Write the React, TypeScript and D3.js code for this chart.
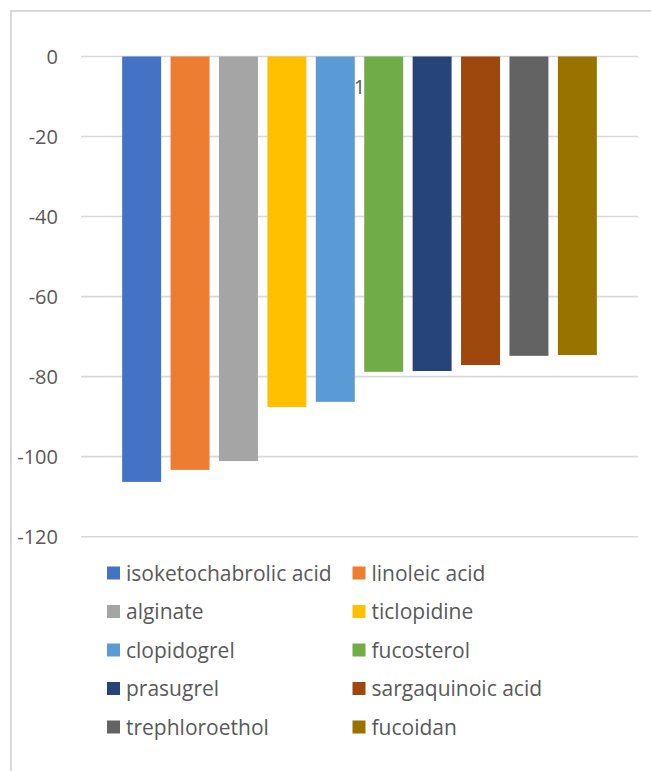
import React, { useEffect } from 'react';
import * as d3 from 'd3';

// single category "1", ten series
const compounds = [
  'isoketochabrolic acid',
  'linoleic acid',
  'alginate',
  'ticlopidine',
  'clopidogrel',
  'fucosterol',
  'prasugrel',
  'sargaquinoic acid',
  'trephloroethol',
  'fucoidan'
];

const scores = [-106.3, -103.3, -101.1, -87.6, -86.3, -78.8, -78.6, -77.1, -74.8, -74.6];

const palette = [
  '#4472C4', '#ED7D31', '#A5A5A5', '#FFC000', '#5B9BD5',
  '#70AD47', '#264478', '#9E480E', '#636363', '#997300'
];

const yTicks = [0, -20, -40, -60, -80, -100, -120];
const categoryLabel = '1';

const W = 651;
const H = 771;
const FONT = '"Open Sans", Lato, sans-serif';
const TEXT = '#595959';
const GRID = '#D9D9D9';

const App: React.FC = () => {
  useEffect(() => {
    document.body.style.margin = '0';
  }, []);

  const y = d3.scaleLinear().domain([-120, 0]).range([536.7, 56.5]);

  const x = d3
    .scaleBand<string>()
    .domain(compounds)
    .range([81, 638])
    .paddingInner(0.195)
    .paddingOuter(0.85);

  const groupCenter = (x.range()[0] + x.range()[1]) / 2;

  // legend: two columns, five rows
  const legendCol = d3.scaleOrdinal<number, number>().domain([0, 1]).range([107, 352.5]);
  const legendRow = d3.scaleLinear().domain([0, 4]).range([573, 727]);

  return (
    <svg width={W} height={H} style={{ display: 'block', background: '#fff' }}>
      <rect x={11} y={11} width={W + 20} height={H + 20} fill="#fff" stroke={GRID} strokeWidth={2} />

      {/* gridlines */}
      <g>
        {yTicks.map(t => (
          <line
            key={t}
            x1={x.range()[0]}
            x2={x.range()[1]}
            y1={y(t)}
            y2={y(t)}
            stroke={GRID}
            strokeWidth={1.6}
          />
        ))}
      </g>

      {/* y tick labels */}
      <g fontFamily={FONT} fontSize={20} fill={TEXT} textAnchor="end">
        {yTicks.map(t => (
          <text key={t} x={58} y={y(t) + 7}>
            {d3.format('d')(t).replace('−', '-')}
          </text>
        ))}
      </g>

      {/* bars */}
      <g>
        {compounds.map((c, i) => (
          <rect
            key={c}
            x={x(c)}
            y={y(0)}
            width={x.bandwidth()}
            height={y(scores[i]) - y(0)}
            fill={palette[i]}
          />
        ))}
      </g>

      {/* category label */}
      <text
        x={groupCenter}
        y={94}
        fontFamily={FONT}
        fontSize={20}
        fill={TEXT}
        textAnchor="middle"
      >
        {categoryLabel}
      </text>

      {/* legend */}
      <g fontFamily={FONT} fontSize={21} fill={TEXT}>
        {compounds.map((c, i) => {
          const lx = legendCol(i % 2);
          const ly = legendRow(Math.floor(i / 2));
          return (
            <g key={c}>
              <rect x={lx} y={ly - 6.5} width={13} height={13} fill={palette[i]} />
              <text x={lx + 19} y={ly + 7.5}>
                {c}
              </text>
            </g>
          );
        })}
      </g>
    </svg>
  );
};

export default App;
